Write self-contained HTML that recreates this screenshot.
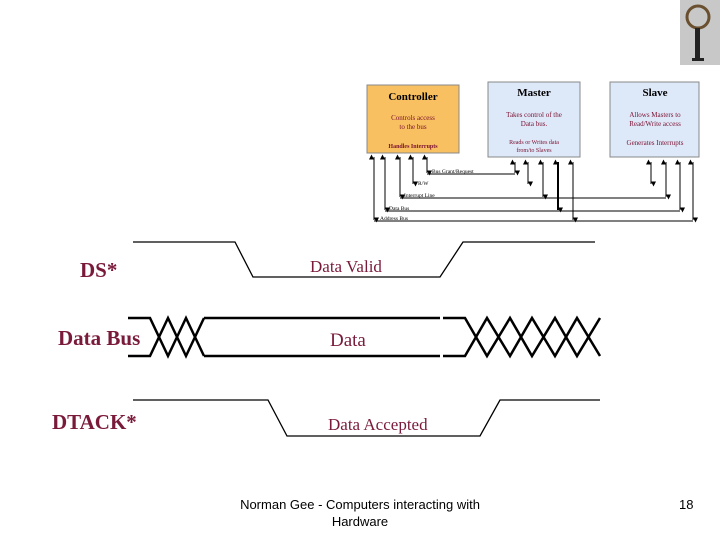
<!DOCTYPE html>
<html><head><meta charset="utf-8"><style>
body{margin:0;background:#fff;width:720px;height:540px;overflow:hidden}
svg{display:block}
</style></head><body>
<svg width="720" height="540" viewBox="0 0 720 540" xmlns="http://www.w3.org/2000/svg">
<defs><marker id="a" viewBox="0 0 6 6" refX="3" refY="6" markerWidth="5" markerHeight="5" orient="auto-start-reverse" markerUnits="userSpaceOnUse"><path d="M0,0 L6,3 L0,6z" fill="#000"/></marker></defs>
<!-- logo -->
<rect x="680" y="0" width="40" height="65" fill="#c8c8c8"/>
<circle cx="698" cy="17" r="11" fill="none" stroke="#6a5030" stroke-width="3"/>
<rect x="695" y="28" width="5" height="30" fill="#222"/>
<rect x="692" y="58" width="12" height="3" fill="#222"/>

<!-- top block diagram -->
<g font-family="Liberation Serif, serif" text-anchor="middle">
<rect x="367" y="85" width="92" height="68" fill="#f8c060" stroke="#888"/>
<text x="413" y="100" font-size="11" font-weight="bold">Controller</text>
<text x="413" y="120" font-size="7" fill="#7a1030">Controls access</text>
<text x="413" y="129" font-size="7" fill="#7a1030">to the bus</text>
<text x="413" y="148" font-size="6" font-weight="bold" fill="#7a1030">Handles Interrupts</text>
<rect x="488" y="82" width="92" height="75" fill="#dde8f8" stroke="#888"/>
<text x="534" y="96" font-size="11" font-weight="bold">Master</text>
<text x="534" y="117" font-size="7" fill="#7a1030">Takes control of the</text>
<text x="534" y="126" font-size="7" fill="#7a1030">Data bus.</text>
<text x="534" y="144" font-size="6" fill="#7a1030">Reads or Writes data</text>
<text x="534" y="152" font-size="6" fill="#7a1030">from/to Slaves</text>
<rect x="610" y="82" width="89" height="75" fill="#dde8f8" stroke="#888"/>
<text x="655" y="96" font-size="11" font-weight="bold">Slave</text>
<text x="655" y="117" font-size="7" fill="#7a1030">Allows Masters to</text>
<text x="655" y="126" font-size="7" fill="#7a1030">Read/Write access</text>
<text x="655" y="145" font-size="7" fill="#7a1030">Generates Interrupts</text>
</g>
<g stroke="#000" stroke-width="1" fill="none">
<path d="M374,221 H693"/><path d="M385,211 H680"/><path d="M400,198 H666"/><path d="M427,174 H515"/>
</g>
<g stroke="#000" stroke-width="1" fill="none" marker-start="url(#a)" marker-end="url(#a)">
<path d="M374,157 V220"/><path d="M385,157 V210"/><path d="M400,157 V197"/><path d="M413,157 V184"/><path d="M427,157 V173"/>
<path d="M515,162 V173"/><path d="M528,162 V184"/><path d="M543,162 V197"/><path d="M558,162 V210" stroke-width="2"/><path d="M573,162 V220"/>
<path d="M651,162 V184"/><path d="M666,162 V197"/><path d="M680,162 V210"/><path d="M693,162 V220"/>
</g>
<g font-family="Liberation Serif, serif" font-size="5.5">
<text x="432" y="173">Bus Grant/Request</text>
<text x="418" y="185">R/W</text>
<text x="404" y="197">Interrupt Line</text>
<text x="389" y="210">Data Bus</text>
<text x="380" y="220">Address Bus</text>
</g>

<!-- timing -->
<g stroke="#000" stroke-width="1.3" fill="none">
<path d="M133,242 H235 L253,277 H440 L463,242 H595"/>
<path d="M133,400 H268 L287,436 H480 L500,400 H600"/>
</g>
<g stroke="#000" stroke-width="2.5" fill="none">
<path d="M128,318 H150 L168,356 L186,318 L204,356 M128,356 H150 L168,318 L186,356 L204,318"/>
<path d="M204,318 H440 M204,356 H440"/>
<path d="M443,318 H465 L487,356 L510,318 L532,356 L555,318 L577,356 L600,318"/>
<path d="M443,356 H465 L487,318 L510,356 L532,318 L555,356 L577,318 L600,356"/>
</g>
<g font-family="Liberation Serif, serif" fill="#7a1a3a">
<text x="80" y="277" font-size="21" font-weight="bold">DS*</text>
<text x="58" y="345" font-size="21" font-weight="bold">Data Bus</text>
<text x="52" y="429" font-size="21" font-weight="bold">DTACK*</text>
<text x="310" y="272" font-size="17">Data Valid</text>
<text x="330" y="346" font-size="19">Data</text>
<text x="328" y="430" font-size="17">Data Accepted</text>
</g>
<g font-family="Liberation Sans, sans-serif" font-size="13" fill="#000">
<text x="360" y="509" text-anchor="middle">Norman Gee - Computers interacting with</text>
<text x="360" y="526" text-anchor="middle">Hardware</text>
<text x="679" y="509">18</text>
</g>
</svg>
</body></html>
